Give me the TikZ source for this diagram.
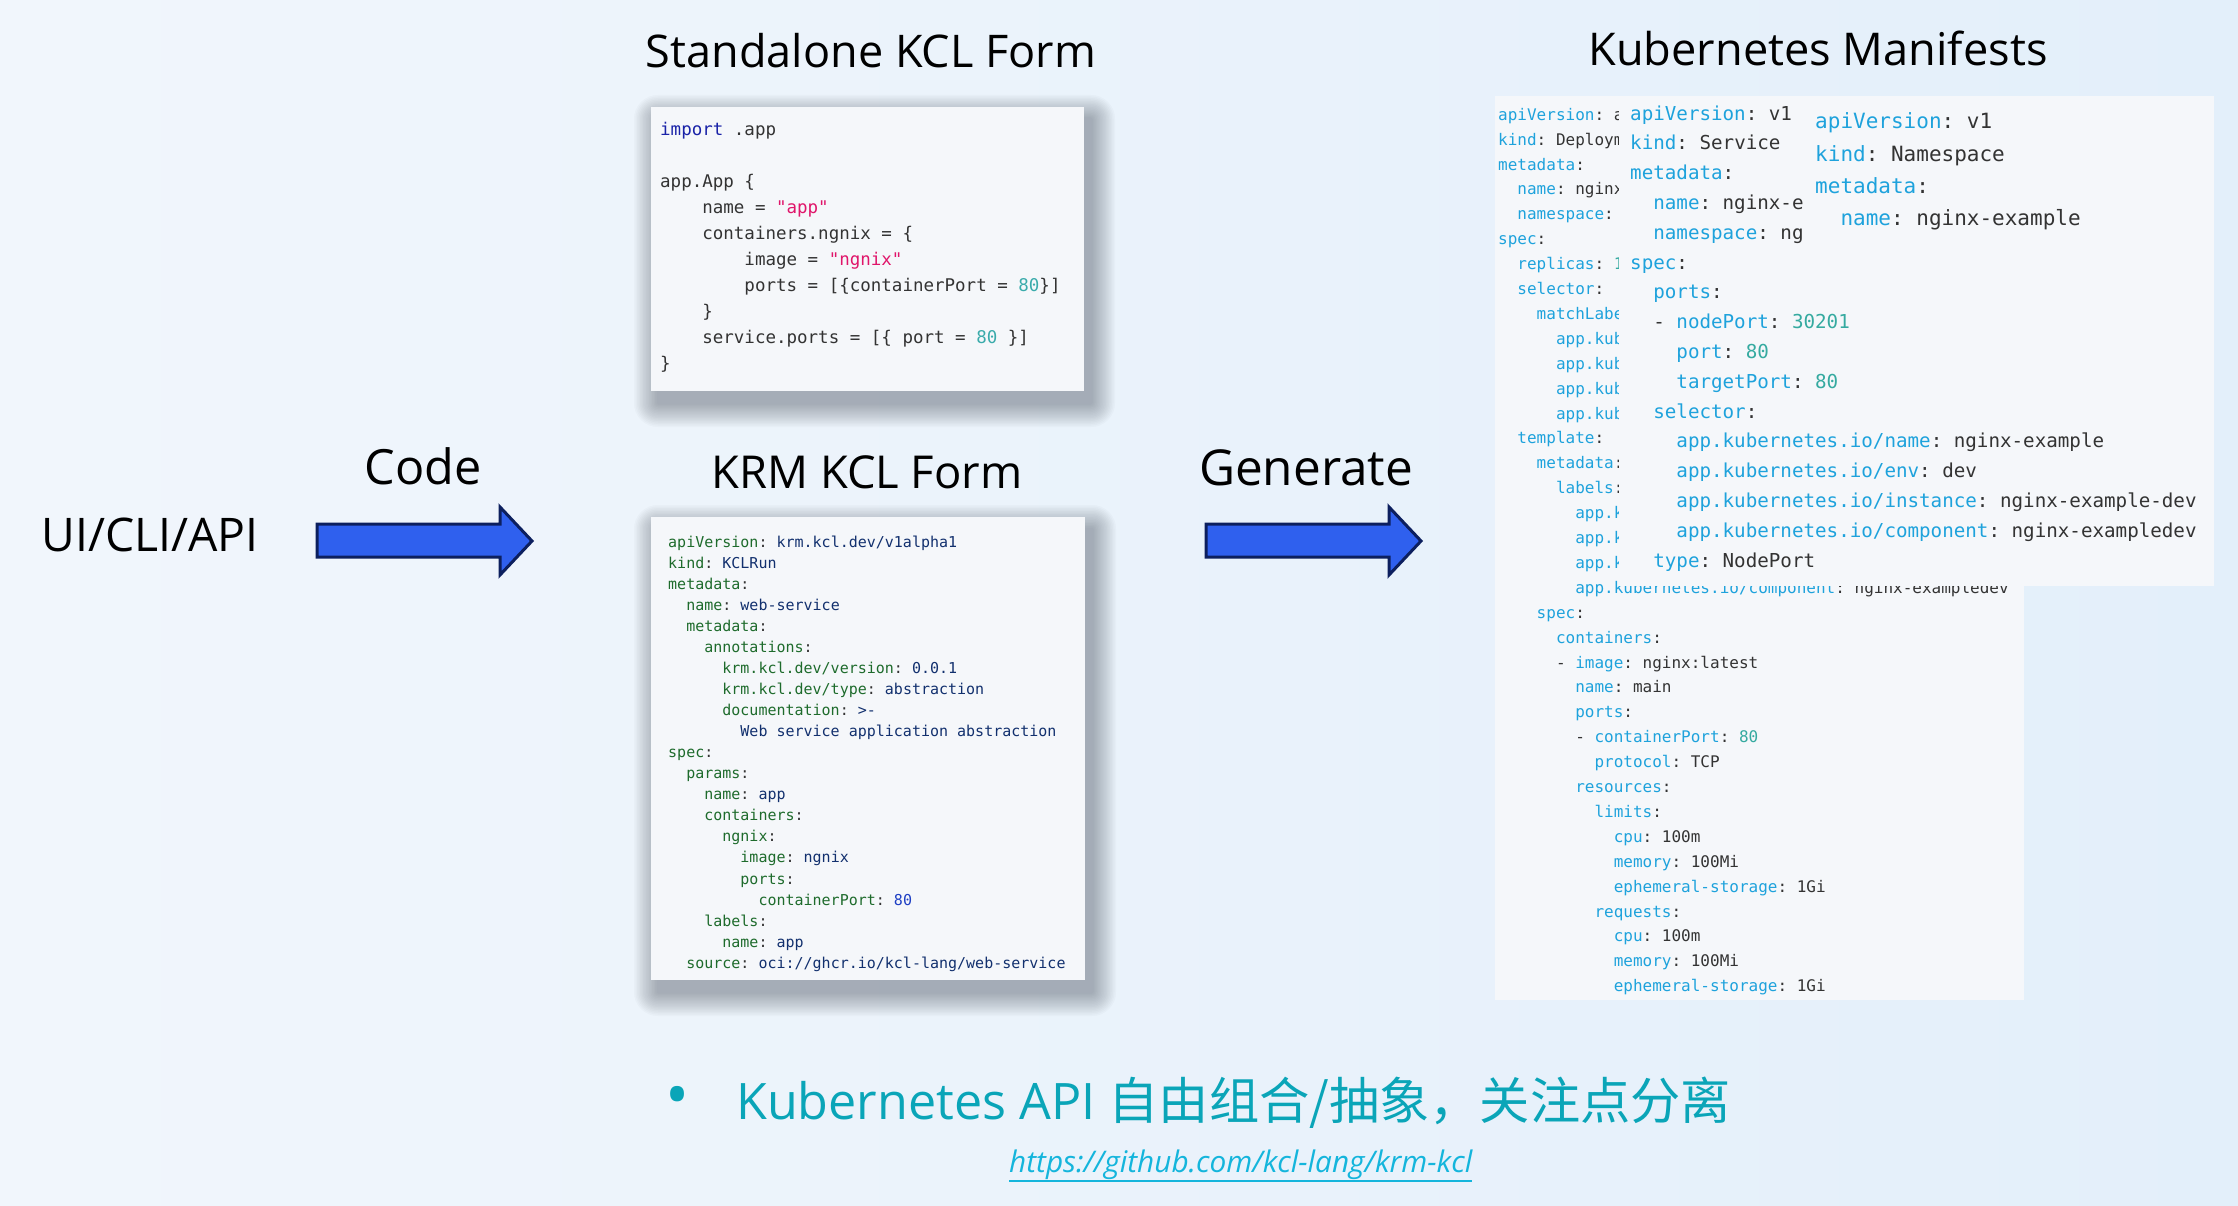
\documentclass[tikz,border=0pt]{standalone}
\usepackage{fontspec}
\usepackage{graphicx}
\setmainfont{Open Sans}
\setmonofont{DejaVu Sans Mono}
\newfontfamily\cjkfont{Noto Sans CJK SC}
\definecolor{bgL}{HTML}{F1F6FC}
\definecolor{bgR}{HTML}{E3EFFA}
\definecolor{panelbg}{HTML}{F5F7FA}
\definecolor{codetext}{HTML}{333333}
\definecolor{stdkw}{HTML}{1A23A8}
\definecolor{stdstr}{HTML}{E0156A}
\definecolor{stdnum}{HTML}{3AABAB}
\definecolor{krmkey}{HTML}{1E6B2C}
\definecolor{krmval}{HTML}{12306E}
\definecolor{krmnum}{HTML}{1E3FC4}
\definecolor{kkey}{HTML}{1EA2DC}
\definecolor{knum}{HTML}{35AAA0}
\definecolor{arrowfill}{HTML}{2F60EE}
\definecolor{arrowline}{HTML}{0C1F5E}
\definecolor{bullettext}{HTML}{0AA5B8}
\definecolor{urlcol}{HTML}{14B5DC}
\definecolor{shadowcol}{HTML}{3A4250}
\newcommand\fitw[2]{\resizebox{#1pt}{!}{#2}}
\newcommand\myind[1]{\hspace*{#1\dimexpr0.602em\relax}}
\newcommand\cxSK[1]{\textcolor{stdkw}{#1}}
\newcommand\cxSS[1]{\textcolor{stdstr}{#1}}
\newcommand\cxSN[1]{\textcolor{stdnum}{#1}}
\newcommand\cxRK[1]{\textcolor{krmkey}{#1}}
\newcommand\cxRV[1]{\textcolor{krmval}{#1}}
\newcommand\cxRN[1]{\textcolor{krmnum}{#1}}
\newcommand\cxKK[1]{\textcolor{kkey}{#1}}
\newcommand\cxKN[1]{\textcolor{knum}{#1}}
% soft drop shadow: x1 y1 x2 y2 (picture coordinates, y downwards)
\newcommand\softshadow[4]{%
  \foreach \r in {24,22.5,...,1.5}{%
    \fill[shadowcol, opacity=0.028, rounded corners=\r pt]
      ({#1+7-\r},{#2+12-\r}) rectangle ({#3+7+\r},{#4+12+\r});
  }}
\tikzset{
  panel/.style={fill=panelbg, draw=none, inner sep=0pt, anchor=north west},
  code/.style={anchor=north west, inner sep=0pt, align=left, text=codetext},
  title/.style={anchor=base, inner sep=0pt, text=black},
  blockarrow/.style={fill=arrowfill, draw=arrowline, line width=3pt, line join=miter},
}
\begin{document}
\begin{tikzpicture}[x=1pt,y=-1pt]
\useasboundingbox (0,0) rectangle (2238,1206);
\shade[left color=bgL, right color=bgR] (0,0) rectangle (2238,1206);

% ---------- left labels and arrows ----------
\node[title] (ui) at (150,551) {\fitw{217}{UI/CLI/API}};
\node[title] (codelbl) at (423,484) {\fitw{117}{Code}};
\node[title] (genlbl) at (1306,485) {\fitw{214}{Generate}};
\draw[blockarrow] (317,524) -- (500,524) -- (500,507) -- (532,541) -- (500,575) -- (500,557) -- (317,557) -- cycle;
\draw[blockarrow] (1206,524) -- (1389,524) -- (1389,507) -- (1421,541) -- (1389,575) -- (1389,557) -- (1206,557) -- cycle;

% ---------- titles ----------
\node[title] (stdtitle) at (871,68) {\fitw{450}{Standalone KCL Form}};
\node[title] (krmtitle) at (867,488) {\fitw{311}{KRM KCL Form}};
\node[title] (k8stitle) at (1818,66) {\fitw{459}{Kubernetes Manifests}};

% ---------- standalone KCL ----------
\softshadow{651}{107}{1084}{391}
\node[panel, minimum width=433pt, minimum height=284pt] (stdbox) at (651,107) {};
\node[code, font=\ttfamily\fontsize{17.5}{26}\selectfont] (stdcode) at (660,116.8) {%
\strut\cxSK{import} .app\\
\strut\\
\strut app.App \{\\
\strut\myind{4}name = \cxSS{"app"}\\
\strut\myind{4}containers.ngnix = \{\\
\strut\myind{8}image = \cxSS{"ngnix"}\\
\strut\myind{8}ports = [\{containerPort = \cxSN{80}\}]\\
\strut\myind{4}\}\\
\strut\myind{4}service.ports = [\{ port = \cxSN{80} \}]\\
\strut\}};

% ---------- KRM KCL ----------
\softshadow{651}{517}{1085}{980}
\node[panel, minimum width=434pt, minimum height=463pt] (krmbox) at (651,517) {};
\node[code, font=\ttfamily\fontsize{15}{21.05}\selectfont] (krmcode) at (668,532.3) {%
\strut\cxRK{apiVersion}: \cxRV{krm.kcl.dev/v1alpha1}\\
\strut\cxRK{kind}: \cxRV{KCLRun}\\
\strut\cxRK{metadata}:\\
\strut\myind{2}\cxRK{name}: \cxRV{web-service}\\
\strut\myind{2}\cxRK{metadata}:\\
\strut\myind{4}\cxRK{annotations}:\\
\strut\myind{6}\cxRK{krm.kcl.dev/version}: \cxRV{0.0.1}\\
\strut\myind{6}\cxRK{krm.kcl.dev/type}: \cxRV{abstraction}\\
\strut\myind{6}\cxRK{documentation}: \cxRV{>-}\\
\strut\myind{8}\cxRV{Web service application abstraction}\\
\strut\cxRK{spec}:\\
\strut\myind{2}\cxRK{params}:\\
\strut\myind{4}\cxRK{name}: \cxRV{app}\\
\strut\myind{4}\cxRK{containers}:\\
\strut\myind{6}\cxRK{ngnix}:\\
\strut\myind{8}\cxRK{image}: \cxRV{ngnix}\\
\strut\myind{8}\cxRK{ports}:\\
\strut\myind{10}\cxRK{containerPort}: \cxRN{80}\\
\strut\myind{4}\cxRK{labels}:\\
\strut\myind{6}\cxRK{name}: \cxRV{app}\\
\strut\myind{2}\cxRK{source}: \cxRV{oci://ghcr.io/kcl-lang/web-service}};

% ---------- Kubernetes manifests: Deployment (partly hidden) ----------
\node[panel, minimum width=529pt, minimum height=904pt] (deppanel) at (1495,96) {};
\node[code, font=\ttfamily\fontsize{16}{24.9}\selectfont] (depcode) at (1498,102.6) {%
\strut\cxKK{apiVersion}: a\\
\strut\cxKK{kind}: Deploym\\
\strut\cxKK{metadata}:\\
\strut\myind{2}\cxKK{name}: nginx\\
\strut\myind{2}\cxKK{namespace}:\\
\strut\cxKK{spec}:\\
\strut\myind{2}\cxKK{replicas}: \cxKN{1}\\
\strut\myind{2}\cxKK{selector}:\\
\strut\myind{4}\cxKK{matchLabe}\\
\strut\myind{6}\cxKK{app.kub}\\
\strut\myind{6}\cxKK{app.kub}\\
\strut\myind{6}\cxKK{app.kub}\\
\strut\myind{6}\cxKK{app.kub}\\
\strut\myind{2}\cxKK{template}:\\
\strut\myind{4}\cxKK{metadata}:\\
\strut\myind{6}\cxKK{labels}:\\
\strut\myind{8}\cxKK{app.k}\\
\strut\myind{8}\cxKK{app.k}\\
\strut\myind{8}\cxKK{app.k}\\
\strut\myind{8}\cxKK{app.kubernetes.io/component}: nginx-exampledev\\
\strut\myind{4}\cxKK{spec}:\\
\strut\myind{6}\cxKK{containers}:\\
\strut\myind{6}- \cxKK{image}: nginx:latest\\
\strut\myind{8}\cxKK{name}: main\\
\strut\myind{8}\cxKK{ports}:\\
\strut\myind{8}- \cxKK{containerPort}: \cxKN{80}\\
\strut\myind{10}\cxKK{protocol}: TCP\\
\strut\myind{8}\cxKK{resources}:\\
\strut\myind{10}\cxKK{limits}:\\
\strut\myind{12}\cxKK{cpu}: 100m\\
\strut\myind{12}\cxKK{memory}: 100Mi\\
\strut\myind{12}\cxKK{ephemeral-storage}: 1Gi\\
\strut\myind{10}\cxKK{requests}:\\
\strut\myind{12}\cxKK{cpu}: 100m\\
\strut\myind{12}\cxKK{memory}: 100Mi\\
\strut\myind{12}\cxKK{ephemeral-storage}: 1Gi};

% ---------- Service ----------
\node[panel, minimum width=595pt, minimum height=490pt] (svcpanel) at (1619,96) {};
\node[code, font=\ttfamily\fontsize{19.2}{29.8}\selectfont] (svccode) at (1630,99.1) {%
\strut\cxKK{apiVersion}: v1\\
\strut\cxKK{kind}: Service\\
\strut\cxKK{metadata}:\\
\strut\myind{2}\cxKK{name}: nginx-e\\
\strut\myind{2}\cxKK{namespace}: ng\\
\strut\cxKK{spec}:\\
\strut\myind{2}\cxKK{ports}:\\
\strut\myind{2}- \cxKK{nodePort}: \cxKN{30201}\\
\strut\myind{4}\cxKK{port}: \cxKN{80}\\
\strut\myind{4}\cxKK{targetPort}: \cxKN{80}\\
\strut\myind{2}\cxKK{selector}:\\
\strut\myind{4}\cxKK{app.kubernetes.io/name}: nginx-example\\
\strut\myind{4}\cxKK{app.kubernetes.io/env}: dev\\
\strut\myind{4}\cxKK{app.kubernetes.io/instance}: nginx-example-dev\\
\strut\myind{4}\cxKK{app.kubernetes.io/component}: nginx-exampledev\\
\strut\myind{2}\cxKK{type}: NodePort};

% ---------- Namespace ----------
\node[panel, minimum width=409pt, minimum height=194pt] (nspanel) at (1805,96) {};
\node[code, font=\ttfamily\fontsize{21}{32.3}\selectfont] (nscode) at (1815,106.1) {%
\strut\cxKK{apiVersion}: v1\\
\strut\cxKK{kind}: Namespace\\
\strut\cxKK{metadata}:\\
\strut\myind{2}\cxKK{name}: nginx-example};

% ---------- bottom text ----------
\node[anchor=center, inner sep=0pt, text=bullettext, font=\fontsize{64}{64}\selectfont] (bullet) at (678,1102) {•};
\node[anchor=base west, inner sep=0pt, text=bullettext] (summary) at (736,1119) {\fitw{995}{Kubernetes API {\cjkfont 自由组合/抽象，关注点分离}}};
\node[anchor=base west, inner sep=0pt, text=urlcol] (url) at (1009,1172) {\fitw{463}{\itshape https://github.com/kcl-lang/krm-kcl}};
\draw[urlcol, line width=2.2pt] ([yshift=-9pt]url.base west) -- ([yshift=-9pt]url.base east);
\end{tikzpicture}
\end{document}
